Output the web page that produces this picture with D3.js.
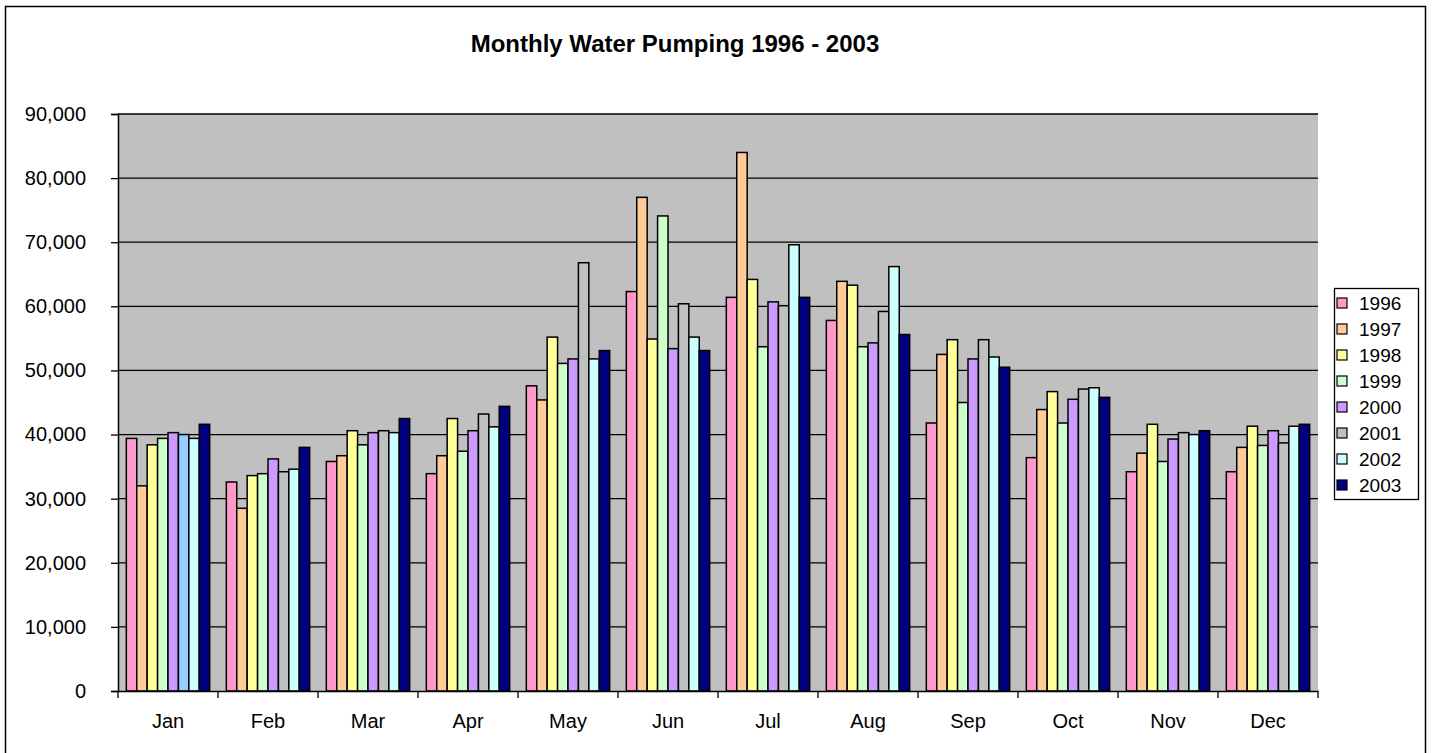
<!DOCTYPE html>
<html>
<head>
<meta charset="utf-8">
<script src="https://d3js.org/d3.v7.min.js"></script>
<style>
  body { margin: 0; background: #fff; }
  text { font-family: Arial, "Liberation Sans", sans-serif; fill: #000; }
</style>
</head>
<body>
<svg id="chart"></svg>
<script>
const months = ["Jan", "Feb", "Mar", "Apr", "May", "Jun", "Jul", "Aug", "Sep", "Oct", "Nov", "Dec"];
const years = ["1996", "1997", "1998", "1999", "2000", "2001", "2002", "2003"];

// pumping per month, one array per year
const v1996 = [39400, 32600, 35800, 33900, 47600, 62300, 61400, 57800, 41800, 36400, 34200, 34200];
const v1997 = [32000, 28500, 36700, 36700, 45400, 77000, 84000, 63900, 52500, 43900, 37100, 38000];
const v1998 = [38400, 33600, 40600, 42500, 55200, 54900, 64200, 63300, 54800, 46700, 41600, 41300];
const v1999 = [39400, 33900, 38400, 37400, 51100, 74100, 53700, 53700, 45000, 41800, 35800, 38300];
const v2000 = [40300, 36200, 40300, 40600, 51800, 53400, 60700, 54300, 51800, 45500, 39300, 40600];
const v2001 = [40000, 34200, 40600, 43200, 66800, 60400, 60100, 59200, 54800, 47100, 40300, 38700];
const v2002 = [39400, 34600, 40300, 41200, 51800, 55200, 69600, 66200, 52100, 47300, 40000, 41300];
const v2003 = [41600, 38000, 42500, 44400, 53100, 53100, 61400, 55600, 50500, 45800, 40600, 41600];

const yTicks = [0, 10000, 20000, 30000, 40000, 50000, 60000, 70000, 80000, 90000];

const series = [v1996, v1997, v1998, v1999, v2000, v2001, v2002, v2003];
const colors = ["#FF99CC", "#FFCC99", "#FFFF99", "#CCFFCC", "#CC99FF", "#C0C0C0", "#CCFFFF", "#000080"];

const width = 1432;
const height = 753;
const margin = {top: 114, right: 114, bottom: 62, left: 118};

const svg = d3.select("#chart")
              .attr("width", width)
              .attr("height", height);

// outer chart border
svg.append("rect")
    .attr("x", 5.5).attr("y", 6.5)
    .attr("width", 1420).attr("height", 760)
    .attr("fill", "#fff")
    .attr("stroke", "#000")
    .attr("stroke-width", 1.5);

const x0 = d3.scaleBand()
              .domain(months)
              .range([margin.left, width - margin.right]);
const x1 = d3.scaleBand()
              .domain(years)
              .range([x0.bandwidth() * 0.0833, x0.bandwidth() * 0.9167]);
const y = d3.scaleLinear()
             .domain([0, 90000])
             .range([height - margin.bottom, margin.top]);

// plot area
svg.append("rect")
    .attr("x", margin.left)
    .attr("y", y(90000))
    .attr("width", width - margin.right - margin.left)
    .attr("height", y(0) - y(90000))
    .attr("fill", "#C0C0C0");

// gridlines
svg.append("g").selectAll("line")
    .data(yTicks.slice(1))
    .enter()
    .append("line")
      .attr("x1", margin.left)
      .attr("x2", width - margin.right)
      .attr("y1", d => y(d))
      .attr("y2", d => y(d))
      .attr("stroke", "#000")
      .attr("stroke-width", 1.3);

// bars
const groups = svg.append("g").selectAll("g")
    .data(months)
    .enter()
    .append("g")
      .attr("transform", d => `translate(${x0(d)},0)`);

groups.selectAll("rect")
    .data((m, i) => years.map((yr, j) => ({month: m, year: yr, value: series[j][i], j: j})))
    .enter()
    .append("rect")
      .attr("x", d => x1(d.year))
      .attr("y", d => y(d.value))
      .attr("width", x1.bandwidth())
      .attr("height", d => y(0) - y(d.value))
      // Jan 2001 point is drawn light blue in the original
      .attr("fill", d => (d.month == "Jan" && d.year == "2001") ? "#99CCFF" : colors[d.j])
      .attr("stroke", "#000")
      .attr("stroke-width", 1.5);

// y axis
const yAxis = svg.append("g")
    .attr("transform", `translate(${margin.left},0)`)
    .call(d3.axisLeft(y).tickValues(yTicks).tickSize(7).tickPadding(25)
            .tickFormat(d3.format(",")));
yAxis.selectAll("text").style("font-size", "20px");

// x axis
const xAxis = svg.append("g")
    .attr("transform", `translate(0,${y(0)})`)
    .call(d3.axisBottom(x0).tickSize(0).tickPadding(23));
xAxis.selectAll("text").style("font-size", "20px");
xAxis.selectAll(".tick line").remove();
xAxis.append("g").selectAll("line")
    .data(months.concat(["end"]))
    .enter()
    .append("line")
      .attr("x1", (d, i) => margin.left + i * x0.step())
      .attr("x2", (d, i) => margin.left + i * x0.step())
      .attr("y1", 0)
      .attr("y2", 7)
      .attr("stroke", "#000")
      .attr("stroke-width", 1.3);

svg.selectAll(".domain").attr("stroke", "#000").attr("stroke-width", 1.5);
svg.selectAll(".tick line").attr("stroke", "#000").attr("stroke-width", 1.3);

// title
svg.append("text")
    .attr("x", 675)
    .attr("y", 52)
    .attr("text-anchor", "middle")
    .style("font-size", "24px")
    .style("font-weight", "bold")
    .text("Monthly Water Pumping 1996 - 2003");

// legend
const legend = svg.append("g").attr("transform", "translate(1334,288)");
legend.append("rect")
    .attr("x", 0.5).attr("y", 0.5)
    .attr("width", 84).attr("height", 211)
    .attr("fill", "#fff")
    .attr("stroke", "#000")
    .attr("stroke-width", 1.3);

const items = legend.selectAll(".item")
    .data(years)
    .enter()
    .append("g")
      .attr("class", "item")
      .attr("transform", (d, i) => `translate(0,${15 + i * 26})`);
items.append("rect")
    .attr("x", 3).attr("y", -5)
    .attr("width", 10).attr("height", 10)
    .attr("fill", (d, i) => colors[i])
    .attr("stroke", "#000")
    .attr("stroke-width", 1.2);
items.append("text")
    .attr("x", 25)
    .attr("y", 7)
    .style("font-size", "19px")
    .text(d => d);
</script>
</body>
</html>
